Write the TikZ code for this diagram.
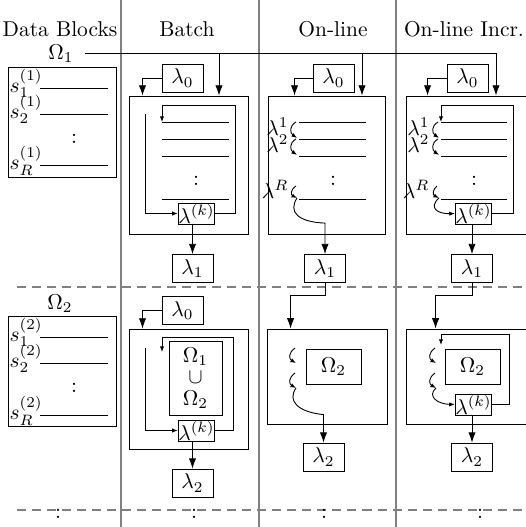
\documentclass[tikz,border=0pt]{standalone}
\usetikzlibrary{arrows.meta,calc}
\begin{document}
\begin{tikzpicture}[x=0.466pt,y=-0.466pt, line width=0.42pt,
  big/.style={-{Latex[length=4.8pt,width=3.4pt]}},
  small/.style={-{Latex[length=2.6pt,width=2pt]}},
  lam/.style={draw, minimum width=19.1pt, minimum height=13pt, inner sep=0pt},
  lamk/.style={draw, minimum width=15.4pt, minimum height=9.8pt, inner sep=0pt},
  frame/.style={draw, inner sep=0pt},
  colsep/.style={gray, line width=0.7pt},
  rowsep/.style={gray, line width=0.8pt, dash pattern=on 4.2pt off 2.8pt},
  lab/.style={inner sep=0.5pt},
  dots/.style={inner sep=0pt}]
\useasboundingbox (0,0) rectangle (526,527);
%
% column and row separators
\foreach \x in {121,259,396} \draw[colsep] (\x,0) -- (\x,527);
\foreach \y in {287,510} \draw[rowsep] (17,\y) -- (526,\y);
%
% headings
\node[anchor=base] (hdata) at (60,36) {Data Blocks};
\node[anchor=base] (hbatch) at (187,36) {Batch};
\node[anchor=base] (honl) at (333,36) {On-line};
\node[anchor=base] (hinc) at (464,36) {On-line Incr.};
%
% data blocks
\node[anchor=base] (om1) at (61,59) {$\Omega_1$};
\node[frame, minimum width=50.3pt, minimum height=51.3pt] (dat1) at (62,122) {};
\foreach \y/\i in {88/1,114/2,165/R} {
  \node[lab, anchor=base west] (s1\i) at (8,\y+4) {$s_{\i}^{(1)}$};
  \draw (40,\y) -- (108,\y);
}
\node[dots] at (74,139) {:};
\node[anchor=base] (om2) at (60,309) {$\Omega_2$};
\node[frame, minimum width=50.3pt, minimum height=51.3pt] (dat2) at (62,371) {};
\foreach \y/\i in {337/1,363/2,415/R} {
  \node[lab, anchor=base west] (s2\i) at (8,\y+4) {$s_{\i}^{(2)}$};
  \draw (40,\y) -- (108,\y);
}
\node[dots] at (74,388) {:};
%
% first block feeds all three methods
\coordinate (busw) at (85,53);
\coordinate (bus) at (496,53);
\coordinate (tapb) at (219,53);
\coordinate (tapo) at (362,53);
\draw (busw) -- (bus);
%
% ---- batch, block 1
\node[frame, minimum width=55.5pt, minimum height=64.3pt] (bat1) at (188.5,165) {};
\node[lam] (l0b1) at (182.5,78) {$\lambda_0$};
\node[lamk] (lkb1) at (196.5,213.5) {$\lambda^{(k)}$};
\node[lam] (l1b) at (192.5,268.5) {$\lambda_1$};
\draw[big] (tapb) -- (tapb |- bat1.north);
\draw[big] (l0b1.west) -| ($(bat1.north west)+(14,0)$);
\foreach \y in {122,139,156,199} \draw (162,\y) -- (229,\y);
\node[dots] at (196,181) {:};
\coordinate (fb1) at (145,114);
\draw[small] (fb1) |- (lkb1.west);
\draw[small] (lkb1.east) -| (235,105) -| (162,122);
\draw[big] (lkb1.south -| l1b.north) -- (l1b.north);
%
% ---- batch, block 2
\node[frame, minimum width=55.5pt, minimum height=55.9pt] (bat2) at (188.5,389) {};
\node[lam] (l0b2) at (182.5,310.5) {$\lambda_0$};
\node[frame, minimum width=24.7pt, minimum height=34.5pt, align=center] (om12) at (195.5,378)
  {$\Omega_1$\\[-2pt]$\cup$\\[-2pt]$\Omega_2$};
\node[lamk] (lkb2) at (196.5,430.5) {$\lambda^{(k)}$};
\node[lam] (l2b) at (192.5,483) {$\lambda_2$};
\draw[big] (l0b2.west) -| ($(bat2.north west)+(14,0)$);
\coordinate (fb2) at (145,348);
\draw[small] (fb2) |- (lkb2.west);
\draw[small] (lkb2.east) -| (233,337) -| (162,352);
\draw[big] (lkb2.south -| l2b.north) -- (l2b.north);
%
% ---- on-line, block 1
\node[frame, minimum width=54.3pt, minimum height=64.3pt] (onl1) at (326.75,165) {};
\node[lam] (l0o1) at (333.5,78) {$\lambda_0$};
\node[lam] (l1o) at (325,268.5) {$\lambda_1$};
\draw[big] (tapo) -- (tapo |- onl1.north);
\draw[big] (l0o1.west) -| ($(onl1.north west)+(26.5,0)$);
\foreach \y in {122,139,156,199} \draw (299,\y) -- (366,\y);
\node[dots] at (333,181) {:};
\node[lab, anchor=base east] (r1o) at (290,135) {$\lambda^1$};
\node[lab, anchor=base east] (r2o) at (290,152) {$\lambda^2$};
\node[lab, anchor=base east] (rRo) at (290,198) {$\lambda^R$};
\draw[small] (296,122) .. controls (289,126) and (290,133) .. (297,138);
\draw[small] (296,139) .. controls (289,143) and (290,150) .. (297,155);
\draw[small] (296,186) .. controls (290,190) and (291,195) .. (297,198);
\path (l1o.north) ++(0,-31) coordinate (ro1);
\draw[big] (297,198) .. controls (288,212) and (298,222) .. (ro1) -- (l1o.north);
%
% ---- on-line, block 2
\node[frame, minimum width=55.9pt, minimum height=44.3pt] (onl2) at (327,376.5) {};
\node[frame, minimum width=25.6pt, minimum height=16.3pt] (om2o) at (333.5,366.5) {$\Omega_2$};
\node[lam] (l2o) at (323.5,457) {$\lambda_2$};
\draw[big] (l1o.south) -- ++(0,13) -| ($(onl2.north west)+(24,0)$);
\draw[small] (295,348) .. controls (288,353) and (289,359) .. (296,363);
\draw[small] (295,373) .. controls (288,378) and (289,384) .. (296,388);
\path (l2o.north) ++(0,-28) coordinate (ro2);
\draw[big] (296,388) .. controls (287,401) and (298,412) .. (ro2) -- (l2o.north);
%
% ---- on-line incremental, block 1
\node[frame, minimum width=55.9pt, minimum height=64.3pt] (inc1) at (466,165) {};
\node[lam] (l0i1) at (467.5,78) {$\lambda_0$};
\node[lamk] (lki1) at (473.5,213.5) {$\lambda^{(k)}$};
\node[lam] (l1i) at (472,268.5) {$\lambda_1$};
\draw[big] (bus) -- (bus |- inc1.north);
\draw[big] (l0i1.west) -| ($(inc1.north west)+(22,0)$);
\foreach \y in {122,139,156,199} \draw (441,\y) -- (507,\y);
\node[dots] at (474,181) {:};
\node[lab, anchor=base east] (r1i) at (431,135) {$\lambda^1$};
\node[lab, anchor=base east] (r2i) at (431,152) {$\lambda^2$};
\node[lab, anchor=base east] (rRi) at (431,198) {$\lambda^R$};
\draw[small] (438,122) .. controls (431,126) and (432,133) .. (439,138);
\draw[small] (438,139) .. controls (431,143) and (432,150) .. (439,155);
\draw[small] (437,186) .. controls (432,190) and (433,195) .. (439,198);
\draw[small] (439,198) .. controls (428,208) and (438,214) .. (lki1.west);
\draw[small] (lki1.east) -| (513,105) -| (441,122);
\draw[big] (lki1.south -| l1i.north) -- (l1i.north);
%
% ---- on-line incremental, block 2
\node[frame, minimum width=55.9pt, minimum height=44.3pt] (inc2) at (466,376.5) {};
\node[frame, minimum width=25.6pt, minimum height=16.3pt] (om2i) at (472.5,366.5) {$\Omega_2$};
\node[lamk] (lki2) at (473.5,404.5) {$\lambda^{(k)}$};
\node[lam] (l2i) at (472,457) {$\lambda_2$};
\draw[big] (l1i.south) -- ++(0,13) -| ($(inc2.north west)+(30,0)$);
\draw[small] (435,348) .. controls (428,353) and (429,359) .. (436,363);
\draw[small] (435,373) .. controls (428,378) and (429,384) .. (436,388);
\draw[small] (436,388) .. controls (427,396) and (437,404) .. (lki2.west);
\draw[small] (lki2.east) -| (509,334) -| (441,345);
\draw[big] (lki2.south -| l2i.north) -- (l2i.north);
%
% more blocks follow
\foreach \x in {58,194,324,480} \node[dots] at (\x,514) {:};
\end{tikzpicture}
\end{document}
